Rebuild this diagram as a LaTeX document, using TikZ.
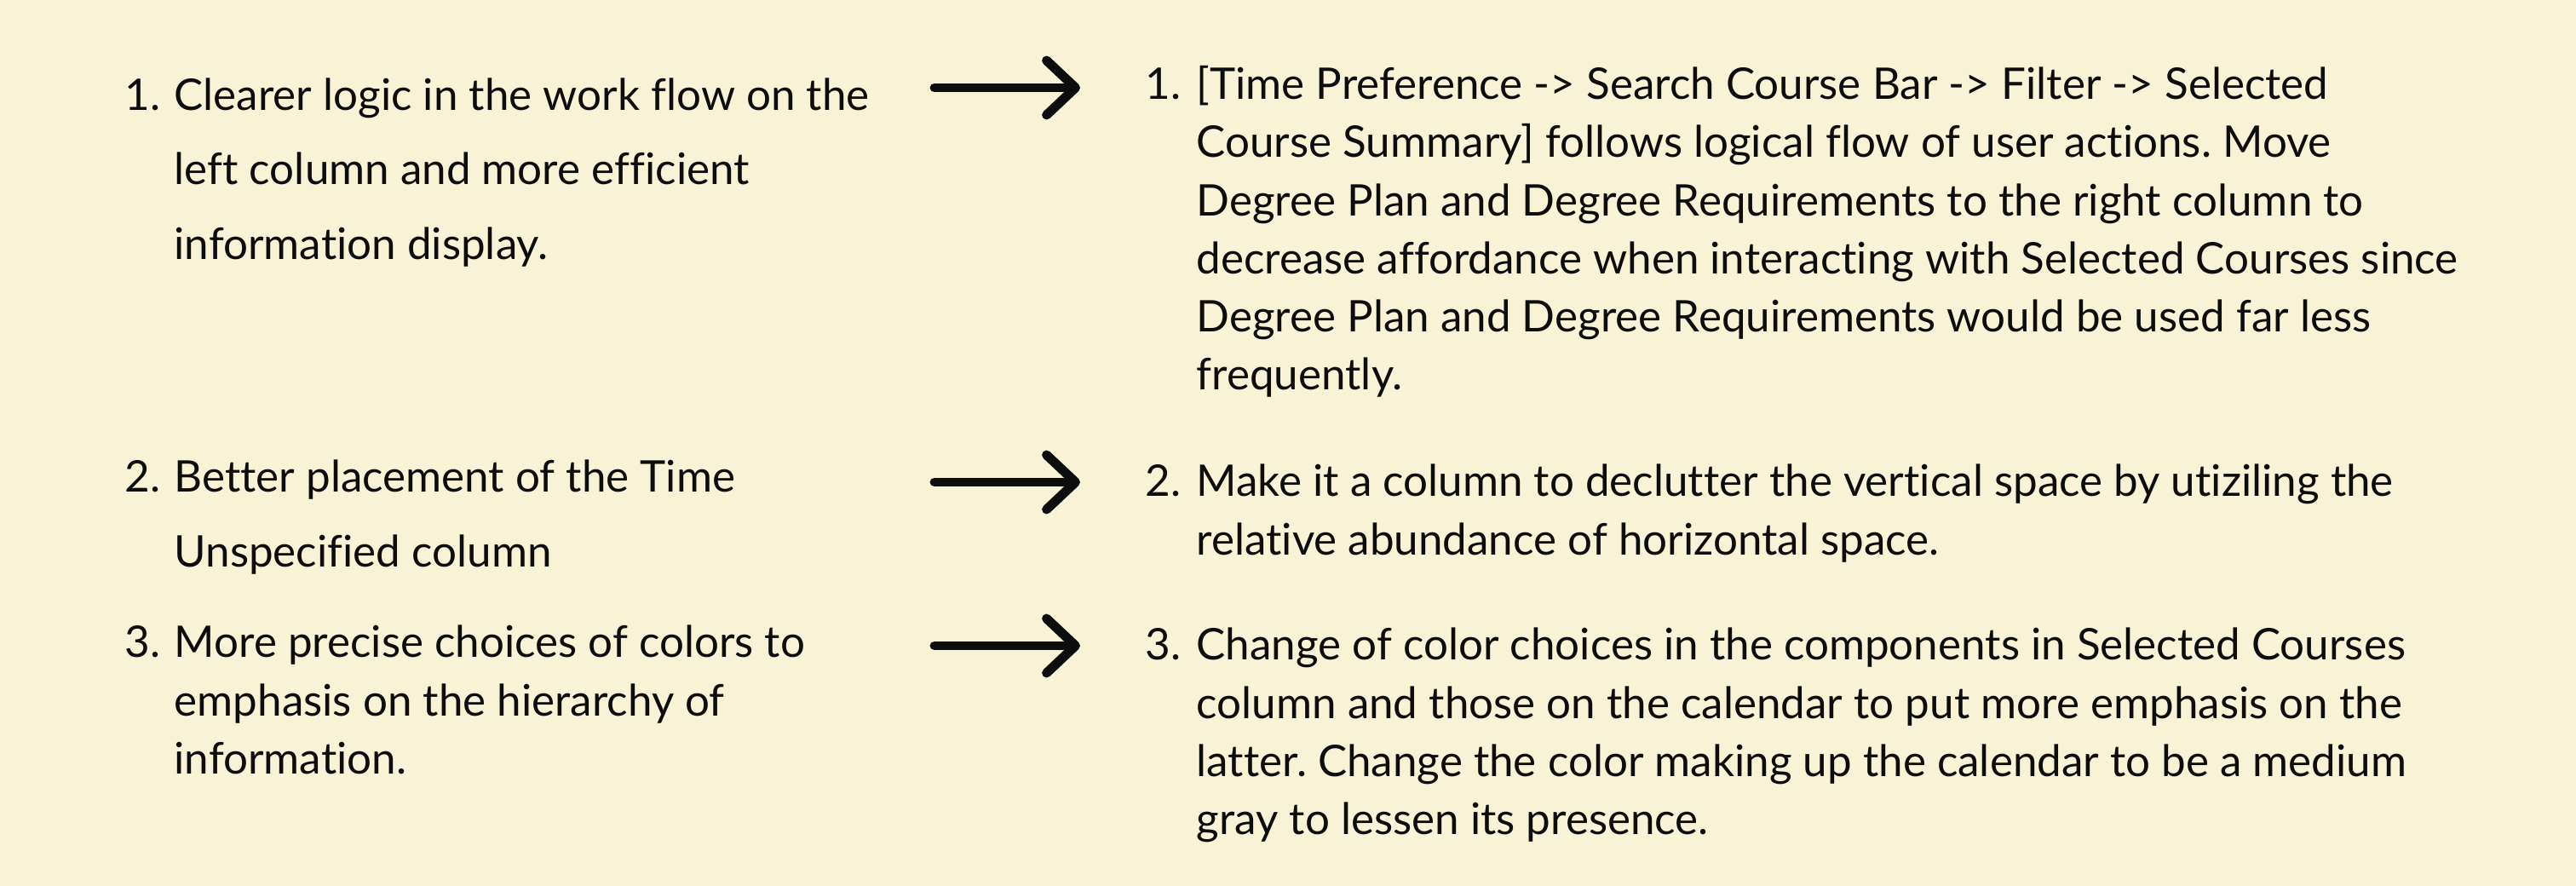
\documentclass[tikz,border=0pt]{standalone}
\usepackage{fontspec}
\setmainfont{Lato}[Ligatures=NoCommon]
\usetikzlibrary{arrows.meta}
\definecolor{paper}{HTML}{F8F2D6}
\definecolor{ink}{HTML}{0D0D0D}
\tikzset{
  num/.style={anchor=base west, inner sep=0pt, text=ink},
  item/.style={anchor=base west, inner sep=0pt, text=ink},
  better/.style={draw=ink, line width=3.1pt, line cap=round, line join=round,
    -{Straight Barb[length=0.34cm, width=0.64cm, round]}}
}
\newcommand{\itemlines}[1]{\begin{tabular}[t]{@{}l@{}}#1\end{tabular}}
\frenchspacing

\begin{document}
\begin{tikzpicture}
\fontsize{14.55}{19.35}\selectfont
\fill[paper] (0,0) rectangle (30.24,-10.40);
% left column
\node (l1n) at (1.46,-1.30) [num] {1.};
\node (l1) at (2.04,-1.30) [item] {\itemlines{Clearer logic in the work flow on the\\[0.19cm]
  left column and more efficient\\[0.19cm] information display.}};
\node (l2n) at (1.46,-5.78) [num] {2.};
\node (l2) at (2.04,-5.78) [item] {\itemlines{Better placement of the Time\\[0.19cm]
  Unspecified column}};
\node (l3n) at (1.46,-7.72) [num] {3.};
\node (l3) at (2.04,-7.72) [item] {\itemlines{More precise choices of colors to\\
  emphasis on the hierarchy of\\ information.}};
% right column
\node (r1n) at (13.44,-1.17) [num] {1.};
\node (r1) at (14.04,-1.17) [item] {\itemlines{[Time Preference -> Search Course Bar -> Filter -> Selected\\
  Course Summary] follows logical flow of user actions. Move\\
  Degree Plan and Degree Requirements to the right column to\\
  decrease affordance when interacting with Selected Courses since\\
  Degree Plan and Degree Requirements would be used far less\\
  frequently.}};
\node (r2n) at (13.44,-5.83) [num] {2.};
\node (r2) at (14.04,-5.83) [item] {\itemlines{Make it a column to declutter the vertical space by utiziling the\\
  relative abundance of horizontal space.}};
\node (r3n) at (13.44,-7.75) [num] {3.};
\node (r3) at (14.04,-7.75) [item] {\itemlines{Change of color choices in the components in Selected Courses\\
  column and those on the calendar to put more emphasis on the\\
  latter. Change the color making up the calendar to be a medium\\
  gray to lessen its presence.}};
% arrows
\coordinate (a1s) at (10.97,-1.03);
\coordinate (a1e) at (12.68,-1.03);
\coordinate (a2s) at (10.97,-5.66);
\coordinate (a2e) at (12.68,-5.66);
\coordinate (a3s) at (10.97,-7.58);
\coordinate (a3e) at (12.68,-7.58);
\draw[better] (a1s) -- (a1e);
\draw[better] (a2s) -- (a2e);
\draw[better] (a3s) -- (a3e);
\end{tikzpicture}
\end{document}
